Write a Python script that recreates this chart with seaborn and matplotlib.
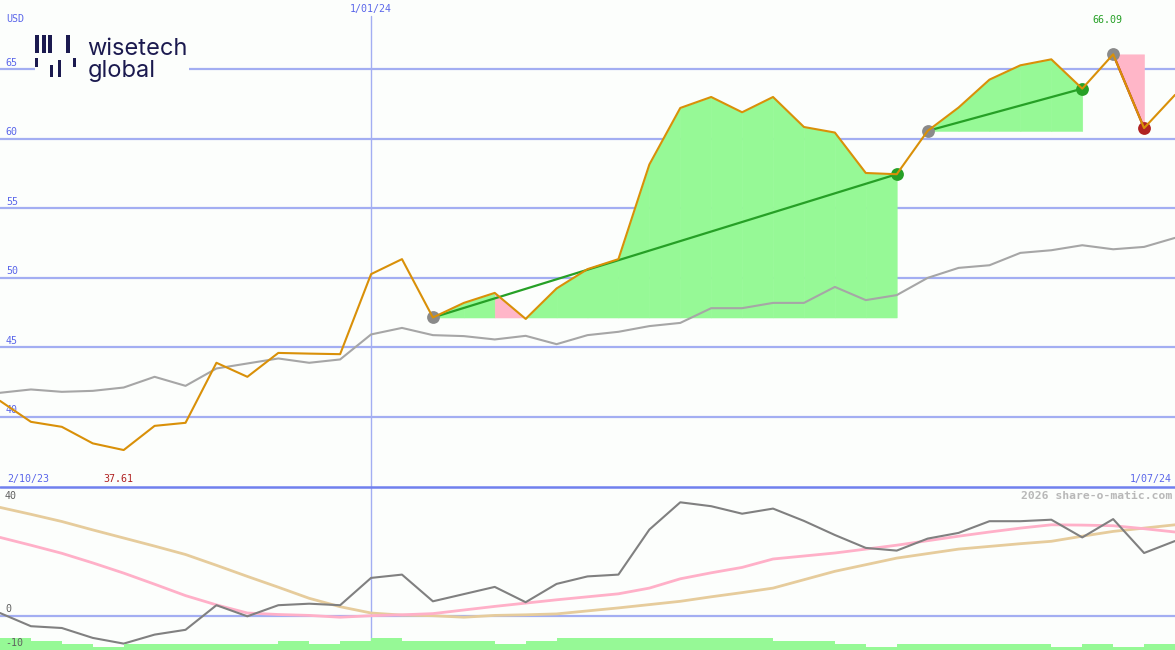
import numpy as np
import pandas as pd
import matplotlib
matplotlib.use("Agg")
import matplotlib.pyplot as plt
from matplotlib.patches import Rectangle
from matplotlib.lines import Line2D
import seaborn as sns

# ---------------- data (weekly, 9 Oct 2023 .. 1 Jul 2024) ----------------
price = [41.15, 39.64, 39.28, 38.09, 37.61, 39.35, 39.57, 43.89, 42.88, 44.60,
         44.55, 44.51, 50.27, 51.35, 47.15, 48.20, 48.92, 47.05, 49.24, 50.63,
         51.35, 58.16, 62.23, 63.02, 61.92, 63.02, 60.86, 60.46, 57.55, 57.46,
         60.58, 62.26, 64.27, 65.30, 65.73, 63.62, 66.09, 60.78, 63.17]
moving_avg = [41.73, 41.97, 41.80, 41.87, 42.11, 42.88, 42.23, 43.48, 43.84, 44.20,
              43.89, 44.13, 45.93, 46.40, 45.88, 45.81, 45.57, 45.83, 45.23, 45.88,
              46.12, 46.53, 46.76, 47.82, 47.82, 48.20, 48.20, 49.35, 48.40, 48.76,
              50.00, 50.72, 50.91, 51.80, 51.99, 52.35, 52.06, 52.23, 52.88]
oscillator = [0.9, -3.5, -4.1, -7.4, -9.3, -6.3, -4.7, 3.5, -0.2, 3.5,
              4.0, 3.5, 12.6, 13.7, 4.8, 7.2, 9.6, 4.5, 10.6, 13.1,
              13.7, 28.7, 37.8, 36.5, 34.0, 35.7, 31.6, 26.9, 22.6, 21.7,
              25.7, 27.6, 31.5, 31.5, 32.0, 26.1, 32.2, 20.9, 24.9]
signal_fast = [26.1, 23.5, 20.8, 17.6, 14.2, 10.5, 6.7, 3.6, 0.9, 0.4,
               0.1, -0.5, 0.0, 0.3, 0.7, 1.9, 3.1, 4.2, 5.3, 6.3,
               7.3, 9.2, 12.3, 14.3, 16.1, 18.9, 19.9, 20.9, 22.2, 23.5,
               25.0, 26.5, 27.9, 29.2, 30.3, 30.2, 30.0, 29.0, 27.9]
signal_slow = [36.1, 33.8, 31.4, 28.6, 25.9, 23.2, 20.4, 16.8, 13.1, 9.5,
               5.8, 3.0, 0.9, 0.2, 0.0, -0.5, 0.1, 0.3, 0.6, 1.6,
               2.6, 3.7, 4.8, 6.3, 7.7, 9.2, 12.0, 14.8, 17.0, 19.2,
               20.7, 22.2, 23.1, 24.0, 24.8, 26.5, 28.1, 29.2, 30.3]
volume_level = [4, 3, 2, 1, 2, 2, 2, 2, 2, 3, 2, 3, 4, 3, 3, 3, 2, 3, 4, 4,
                4, 4, 4, 4, 4, 3, 3, 2, 1, 2, 2, 2, 2, 2, 1, 2, 1, 2]
trade_entry = [14, 30, 36]
trade_exit = [29, 35, 37]
price_ticks = [40, 45, 50, 55, 60, 65]
osc_ticks = [40, 0, -10]
mid_date_label = "1/01/24"
mid_date_index = 12
start_label = "2/10/23"
end_label = "1/07/24"
unit_label = "USD"
watermark = "2026 share-o-matic.com"

# ---------------- style ----------------
sns.set_theme(style="white")
plt.rcParams['font.family'] = ['DejaVu Sans Mono', 'DejaVu Sans']

BG = '#fcfefc'
GRID = '#a3aef2'
LBL = '#5a66ea'
ORANGE = '#d99008'
GREY = '#a6a6a6'
GREEN_FILL = '#96f996'
PINK_FILL = '#ffb6c8'
TRADE_GREEN = '#26a026'
RED = '#b02222'
DOT_GREY = '#8a8a8a'
NAVY = '#1b1a4f'

W, H = 1175, 650
fig = plt.figure(figsize=(W / 100, H / 100), dpi=100, facecolor=BG)
split = 163
ax = fig.add_axes([0, split / H, 1, (H - split) / H])
axb = fig.add_axes([0, 0, 1, split / H])

x = np.arange(len(price))
df = pd.DataFrame({'x': x, 'price': price, 'ma': moving_avg, 'osc': oscillator,
                   'fast': signal_fast, 'slow': signal_slow})

for a in (ax, axb):
    a.set_facecolor(BG)
    for s in a.spines.values():
        s.set_visible(False)
    a.set_xlim(0, len(price) - 1)

ax.set_ylim(34.95, 70.0)
b_lo, b_hi = -11.43, 42.9
axb.set_ylim(b_lo, b_hi)

# ---------------- top panel ----------------
for t in price_ticks:
    ax.axhline(t, color=GRID, lw=1.6, zorder=1)
    ax.text(0.005, t + 0.12, f"{t}", transform=ax.get_yaxis_transform(),
            color=LBL, fontsize=7.2, ha='left', va='bottom', zorder=2)
ax.axvline(mid_date_index, ymin=0, ymax=1 - 16 / 487, color=GRID, lw=1.0, zorder=1)

# trade fills
for e, xo in zip(trade_entry, trade_exit):
    base = price[e]
    for k in range(e, xo):
        col = GREEN_FILL if price[k + 1] >= base else PINK_FILL
        ax.fill_between(x[k:k + 2], price[k:k + 2], base, color=col,
                        lw=0.4, edgecolor=col, zorder=2)

sns.lineplot(data=df, x='x', y='ma', ax=ax, color=GREY, lw=1.5, zorder=3,
             estimator=None, sort=False)

for e, xo in zip(trade_entry, trade_exit):
    col = TRADE_GREEN if price[xo] >= price[e] else RED
    tdf = pd.DataFrame({'x': [e, xo], 'y': [price[e], price[xo]]})
    sns.lineplot(data=tdf, x='x', y='y', ax=ax, color=col, lw=1.6, zorder=4,
                 estimator=None, sort=False)
    sns.scatterplot(x=[e], y=[price[e]], ax=ax, color=DOT_GREY, s=85,
                    linewidth=0, zorder=4)
    sns.scatterplot(x=[xo], y=[price[xo]], ax=ax, color=col, s=85,
                    linewidth=0, zorder=4)

sns.lineplot(data=df, x='x', y='price', ax=ax, color=ORANGE, lw=1.5, zorder=5,
             estimator=None, sort=False)

imax = int(np.argmax(price))
imin = int(np.argmin(price))
ax.annotate(f"{price[imax]:.2f}", xy=(imax, price[imax]), xytext=(-6, 34),
            textcoords='offset pixels', ha='center', va='center',
            color=TRADE_GREEN, fontsize=7.2, zorder=6)
ax.annotate(f"{price[imin]:.2f}", xy=(imin, 8 / 487), xycoords=('data', 'axes fraction'),
            xytext=(-5, 0), textcoords='offset pixels', ha='center', va='center',
            color=RED, fontsize=7.2, zorder=6)

ax.text(mid_date_index, 1 - 9 / 487, mid_date_label, transform=ax.get_xaxis_transform(),
        ha='center', va='center', color=LBL, fontsize=7.2)
ax.text(7 / W, 8 / 487, start_label, transform=ax.transAxes, ha='left', va='center',
        color=LBL, fontsize=7.2)
ax.text(1172 / W, 8 / 487, end_label, transform=ax.transAxes, ha='right', va='center',
        color=LBL, fontsize=7.2)
ax.text(6 / W, 1 - 19 / 487, unit_label, transform=ax.transAxes, ha='left', va='center',
        color=LBL, fontsize=7.2)

ax.set_xlabel('')
ax.set_ylabel('')
ax.set_xticks([])
ax.set_yticks([])

# ---------------- bottom panel ----------------
axb.axhline(0, color=GRID, lw=1.6, zorder=1)
axb.axvline(mid_date_index, color=GRID, lw=1.0, zorder=1)
sns.lineplot(data=df, x='x', y='slow', ax=axb, color='#e6cc9c', lw=2.0, zorder=2,
             estimator=None, sort=False)
sns.lineplot(data=df, x='x', y='fast', ax=axb, color='#ffb0c8', lw=2.0, zorder=3,
             estimator=None, sort=False)
sns.lineplot(data=df, x='x', y='osc', ax=axb, color='#808080', lw=1.5, zorder=4,
             estimator=None, sort=False)
axb.bar(x[:-1], np.array(volume_level) * 1.03, bottom=b_lo, width=1.0, align='edge',
        color=GREEN_FILL, lw=0, zorder=5)

osc_offsets = {40: ('center', 0.0), 0: ('bottom', 0.5), -10: ('center', 0.8)}
for t in osc_ticks:
    va, off = osc_offsets[t]
    axb.text(5 / W, t + off, f"{t}", transform=axb.get_yaxis_transform(),
             ha='left', va=va, color='#606060', fontsize=7.2, zorder=6)
axb.text(1172 / W, 1 - 9 / 163, watermark, transform=axb.transAxes, ha='right',
         va='center', color='#b8b8b8', fontsize=8.2, fontweight='bold', zorder=6)
axb.set_xlabel('')
axb.set_ylabel('')
axb.set_xticks([])
axb.set_yticks([])

# separator line between panels
fig.add_artist(Line2D([0, 1], [split / H, split / H], color='#7080ee', lw=1.8, zorder=7))

# ---------------- logo ----------------
def fx(px):
    return px / W

def fy(py):
    return 1 - py / H

fig.add_artist(Rectangle((fx(35), fy(86)), fx(189) - fx(35), fy(30) - fy(86),
                         transform=fig.transFigure, color=BG, lw=0, zorder=8))
icon_bars = [(35, 35, 4, 18), (42, 35, 4, 18), (48, 35, 4, 18),
             (66, 35, 4, 18), (35, 58, 3, 9), (50, 65, 3, 12),
             (58, 60, 3, 17), (73, 58, 3, 9)]
for bx, by, bw, bh in icon_bars:
    fig.add_artist(Rectangle((fx(bx), fy(by + bh)), bw / W, bh / H,
                             transform=fig.transFigure, color=NAVY, lw=0, zorder=9,
                             antialiased=False))
fig.text(fx(87), fy(55), "wisetech", family=['Inter', 'DejaVu Sans'], fontsize=17,
         color=NAVY, ha='left', va='baseline', zorder=9)
fig.text(fx(88), fy(77), "global", family=['Inter', 'DejaVu Sans'], fontsize=17,
         color=NAVY, ha='left', va='baseline', zorder=9)

fig.savefig("out.png", dpi=100, facecolor=BG)
